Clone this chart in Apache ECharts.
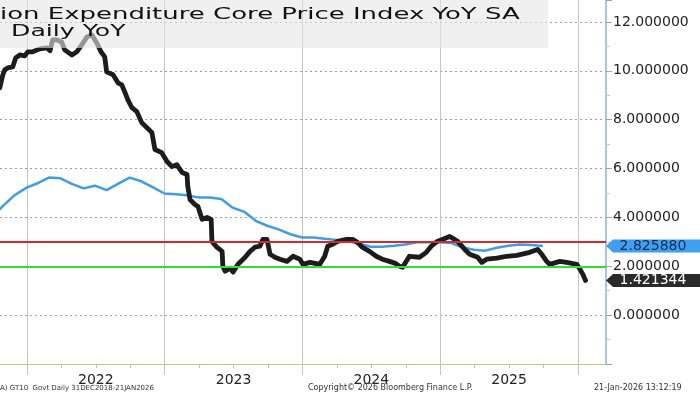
<!DOCTYPE html>
<html>
<head>
<meta charset="utf-8">
<script src="https://cdn.jsdelivr.net/npm/echarts@6/dist/echarts.min.js"></script>
<style>
html,body{margin:0;padding:0;background:#ffffff;}
#chart{width:700px;height:394px;}
</style>
</head>
<body>
<div id="chart"></div>
<script>
// ---- data ----
const blackDates = [
 '2021-10-21','2021-10-29','2021-11-03','2021-11-11','2021-11-24','2021-12-02','2021-12-13','2021-12-26',
 '2022-01-03','2022-01-16','2022-02-04','2022-02-23','2022-03-03','2022-03-10','2022-03-21','2022-04-03',
 '2022-04-11','2022-04-30','2022-05-13','2022-05-26','2022-06-09','2022-06-22','2022-07-05','2022-07-16',
 '2022-07-26','2022-07-31','2022-08-17','2022-08-30','2022-09-09','2022-09-17','2022-09-25','2022-10-06',
 '2022-10-19','2022-11-01','2022-11-15','2022-11-28','2022-12-06','2022-12-24','2023-01-07','2023-01-20',
 '2023-02-02','2023-02-16','2023-03-01','2023-03-03','2023-03-09','2023-03-22','2023-03-30','2023-04-10',
 '2023-04-23','2023-05-04','2023-05-06','2023-05-19','2023-06-02','2023-06-04','2023-06-10','2023-06-23',
 '2023-07-01','2023-07-14','2023-08-02','2023-08-15','2023-08-28','2023-09-10','2023-09-18','2023-09-29',
 '2023-10-07','2023-10-20','2023-11-02','2023-11-21','2023-12-07','2023-12-25','2024-01-02','2024-01-21',
 '2024-02-16','2024-02-29','2024-03-08','2024-03-21','2024-04-03','2024-04-27','2024-05-13','2024-05-26',
 '2024-06-08','2024-06-27','2024-07-15','2024-07-31','2024-08-19','2024-09-04','2024-09-15','2024-09-23',
 '2024-10-11','2024-11-07','2024-11-25','2024-12-08','2024-12-24','2025-01-13','2025-01-26','2025-02-08',
 '2025-02-16','2025-03-07','2025-03-20','2025-04-10','2025-04-21','2025-05-04','2025-05-31','2025-06-26',
 '2025-07-23','2025-08-26','2025-09-16','2025-09-27','2025-10-10','2025-10-18','2025-11-14','2025-12-02',
 '2025-12-29','2026-01-06','2026-01-14','2026-01-21'
];
const blackValues = [
 9.31,9.84,10.04,10.12,10.16,10.53,10.65,10.61,
 10.78,10.78,10.90,10.94,10.82,11.27,11.27,11.18,
 10.86,10.65,10.78,11.06,11.39,11.47,11.14,10.78,
 10.57,9.96,9.84,9.51,9.43,9.14,8.82,8.49,
 8.33,7.88,7.67,7.47,6.78,6.65,6.29,6.08,
 6.16,5.84,5.76,5.27,4.73,4.53,4.45,3.92,
 4.00,3.92,3.02,2.78,2.61,2.00,1.80,1.92,
 1.76,2.08,2.37,2.61,2.78,2.82,3.10,3.10,
 2.49,2.37,2.29,2.20,2.41,2.29,2.08,2.16,
 2.08,2.41,2.82,2.90,3.02,3.10,3.10,2.98,
 2.78,2.61,2.41,2.29,2.20,2.12,2.00,1.96,
 2.41,2.37,2.57,2.82,3.02,3.14,3.22,3.10,
 3.02,2.69,2.49,2.37,2.16,2.29,2.33,2.41,
 2.45,2.57,2.69,2.49,2.20,2.08,2.20,2.16,
 2.08,1.88,1.67,1.421344
];
const blueDates = [
 '2021-09-30','2021-10-31','2021-11-30','2021-12-31',
 '2022-01-31','2022-02-28','2022-03-31','2022-04-30','2022-05-31','2022-06-30',
 '2022-07-31','2022-08-31','2022-09-30','2022-10-31','2022-11-30','2022-12-31',
 '2023-01-31','2023-02-28','2023-03-31','2023-04-30','2023-05-31','2023-06-30',
 '2023-07-31','2023-08-31','2023-09-30','2023-10-31','2023-11-30','2023-12-31',
 '2024-01-31','2024-02-29','2024-03-31','2024-04-30','2024-05-31','2024-06-30',
 '2024-07-31','2024-08-31','2024-09-30','2024-10-31','2024-11-30','2024-12-31',
 '2025-01-31','2025-02-28','2025-03-31','2025-04-30','2025-05-31','2025-06-30',
 '2025-07-31','2025-08-31','2025-09-30'
];
const blueValues = [
 4.02,4.49,4.92,5.22,
 5.41,5.63,5.60,5.37,5.19,5.30,
 5.12,5.38,5.63,5.48,5.24,4.98,
 4.95,4.91,4.82,4.82,4.75,4.40,
 4.23,3.85,3.66,3.50,3.31,3.18,
 3.18,3.13,3.08,3.03,2.92,2.80,
 2.80,2.84,2.89,2.98,2.98,2.98,
 2.95,2.78,2.68,2.64,2.76,2.84,
 2.89,2.87,2.82588
];
const redLevel = 3.0;
const greenLevel = 2.0;
const yearLabels = ['2022','2023','2024','2025'];
const yearStarts = [2022, 2023, 2024, 2025, 2026];
const titleLines = ['ion Expenditure Core Price Index YoY SA', 'Daily YoY'];
const footerTexts = ['A) GT10  Govt Daily 31DEC2018-21JAN2026', 'Copyright\u00A9 2026 Bloomberg Finance L.P.', '21-Jan-2026 13:12:19'];

// ---- helpers ----
function decYear(s) {
  const d = new Date(s + 'T00:00:00Z');
  const y = d.getUTCFullYear();
  const a = Date.UTC(y, 0, 1), b = Date.UTC(y + 1, 0, 1);
  return y + (d.getTime() - a) / (b - a);
}
const X0 = 2021.804, X1 = 2026.2033;
const quarterTicks = [];
for (let y = 2022; y <= 2026; y++) for (let q = 0; q < 4; q++) { const v = y + q / 4; if (v <= X1) quarterTicks.push(v); }
const labelPos = yearLabels.map(s => Number(s) + 0.5);
const blackData = blackDates.map((d, i) => [decYear(d), blackValues[i]]);
const blueData = blueDates.map((d, i) => [decYear(d), blueValues[i]]);
const lastBlack = blackValues[blackValues.length - 1];
const lastBlue = blueValues[blueValues.length - 1];
const tagPath = 'path://M0,7L7,0L94,0L94,14L7,14Z';
const FONT = '"DejaVu Sans", Verdana, sans-serif';

const chart = echarts.init(document.getElementById('chart'), null, {renderer: 'canvas'});
chart.setOption({
  animation: false,
  backgroundColor: '#ffffff',
  grid: [{left: 0, right: 94, top: 0, bottom: 30}],
  xAxis: [
    {
      type: 'value', gridIndex: 0, position: 'bottom', min: X0, max: X1,
      axisLine: {show: true, onZero: false, lineStyle: {color: '#c4c48e', width: 1}},
      axisTick: {show: true, length: 4, customValues: quarterTicks, lineStyle: {color: '#c4c48e'}},
      splitLine: {show: false},
      axisLabel: {
        show: true, margin: 9, color: '#222', fontSize: 14, fontFamily: FONT,
        customValues: labelPos,
        formatter: function (v) { return String(Math.floor(v + 1e-6)); }
      }
    },
    {
      type: 'value', gridIndex: 0, position: 'bottom', min: X0, max: X1,
      axisLine: {show: false, onZero: false},
      axisTick: {show: true, length: 11, customValues: yearStarts, lineStyle: {color: '#c4c4c4'}},
      axisLabel: {show: false},
      splitLine: {show: true, lineStyle: {color: '#c4c4c4', width: 1, type: 'solid'}}
    }
  ],
  yAxis: [
    {
      type: 'value', gridIndex: 0, position: 'right', min: -2, max: 12.9, interval: 2,
      axisLine: {show: true, lineStyle: {color: '#a9c6de', width: 2}},
      axisTick: {show: true, length: 6, lineStyle: {color: '#8fa9bf'}},
      minorTick: {show: true, splitNumber: 2, length: 4, lineStyle: {color: '#b4cadb'}},
      splitLine: {show: true, showMinLine: false, showMaxLine: false, lineStyle: {color: '#a0a0a0', width: 1, type: [2, 3]}},
      axisLabel: {
        show: true, margin: 7, color: '#222', fontSize: 14, fontFamily: FONT,
        showMinLabel: false, showMaxLabel: false,
        formatter: function (v) { return v < 0 || v > 12.5 ? '' : v.toFixed(6); }
      }
    }
  ],
  series: [
    {
      type: 'line', name: 'Core PCE YoY', xAxisIndex: 0, yAxisIndex: 0,
      data: blueData, symbol: 'none', showSymbol: false, z: 2,
      lineStyle: {color: '#3f9de8', width: 2.5},
      markLine: {
        silent: true, symbol: 'none', label: {show: false},
        data: [
          {yAxis: redLevel, lineStyle: {color: '#d42a2a', width: 2, type: 'solid'}},
          {yAxis: greenLevel, lineStyle: {color: '#33dd33', width: 2, type: 'solid'}}
        ]
      },
      markPoint: {
        silent: true,
        symbol: tagPath, symbolSize: [94, 13], symbolOffset: [47, 0], symbolKeepAspect: false,
        itemStyle: {color: '#3f9ff0'},
        label: {show: true, position: 'inside', color: '#0b2a55', fontSize: 14, fontFamily: FONT,
                formatter: function (p) { return Number(p.value).toFixed(6); }},
        data: [{coord: [X1, lastBlue], value: lastBlue}]
      }
    },
    {
      type: 'line', name: 'GT10 Daily', xAxisIndex: 0, yAxisIndex: 0,
      data: blackData, symbol: 'none', showSymbol: false, z: 3,
      lineStyle: {color: '#1c1c1c', width: 4.8, join: 'round', cap: 'round'},
      markPoint: {
        silent: true,
        symbol: tagPath, symbolSize: [94, 13], symbolOffset: [47, 0], symbolKeepAspect: false,
        itemStyle: {color: '#2a2a2a'},
        label: {show: true, position: 'inside', color: '#ffffff', fontSize: 14, fontFamily: FONT,
                formatter: function (p) { return Number(p.value).toFixed(6); }},
        data: [{coord: [X1, lastBlack], value: lastBlack}]
      }
    }
  ],
  graphic: [
    {type: 'rect', silent: true, z: 100, shape: {x: 0, y: 0, width: 548, height: 48},
     style: {fill: 'rgba(230,230,230,0.6)'}},
    {type: 'text', silent: true, z: 101, x: 0, y: 15, scaleX: 1.73,
     style: {text: titleLines[0], fontSize: 15, fontFamily: FONT, fill: '#111', verticalAlign: 'middle', align: 'left'}},
    {type: 'text', silent: true, z: 101, x: 11, y: 32, scaleX: 1.68,
     style: {text: titleLines[1], fontSize: 15, fontFamily: FONT, fill: '#111', verticalAlign: 'middle', align: 'left'}},
    {type: 'text', silent: true, z: 101, x: 0, y: 388,
     style: {text: footerTexts[0], fontSize: 7, fontFamily: FONT, fill: '#333', verticalAlign: 'middle', align: 'left'}},
    {type: 'text', silent: true, z: 101, x: 308, y: 388,
     style: {text: footerTexts[1], fontSize: 8, fontFamily: FONT, fill: '#333', verticalAlign: 'middle', align: 'left'}},
    {type: 'text', silent: true, z: 101, x: 594, y: 388,
     style: {text: footerTexts[2], fontSize: 8, fontFamily: FONT, fill: '#333', verticalAlign: 'middle', align: 'left'}}
  ]
});
</script>
</body>
</html>
